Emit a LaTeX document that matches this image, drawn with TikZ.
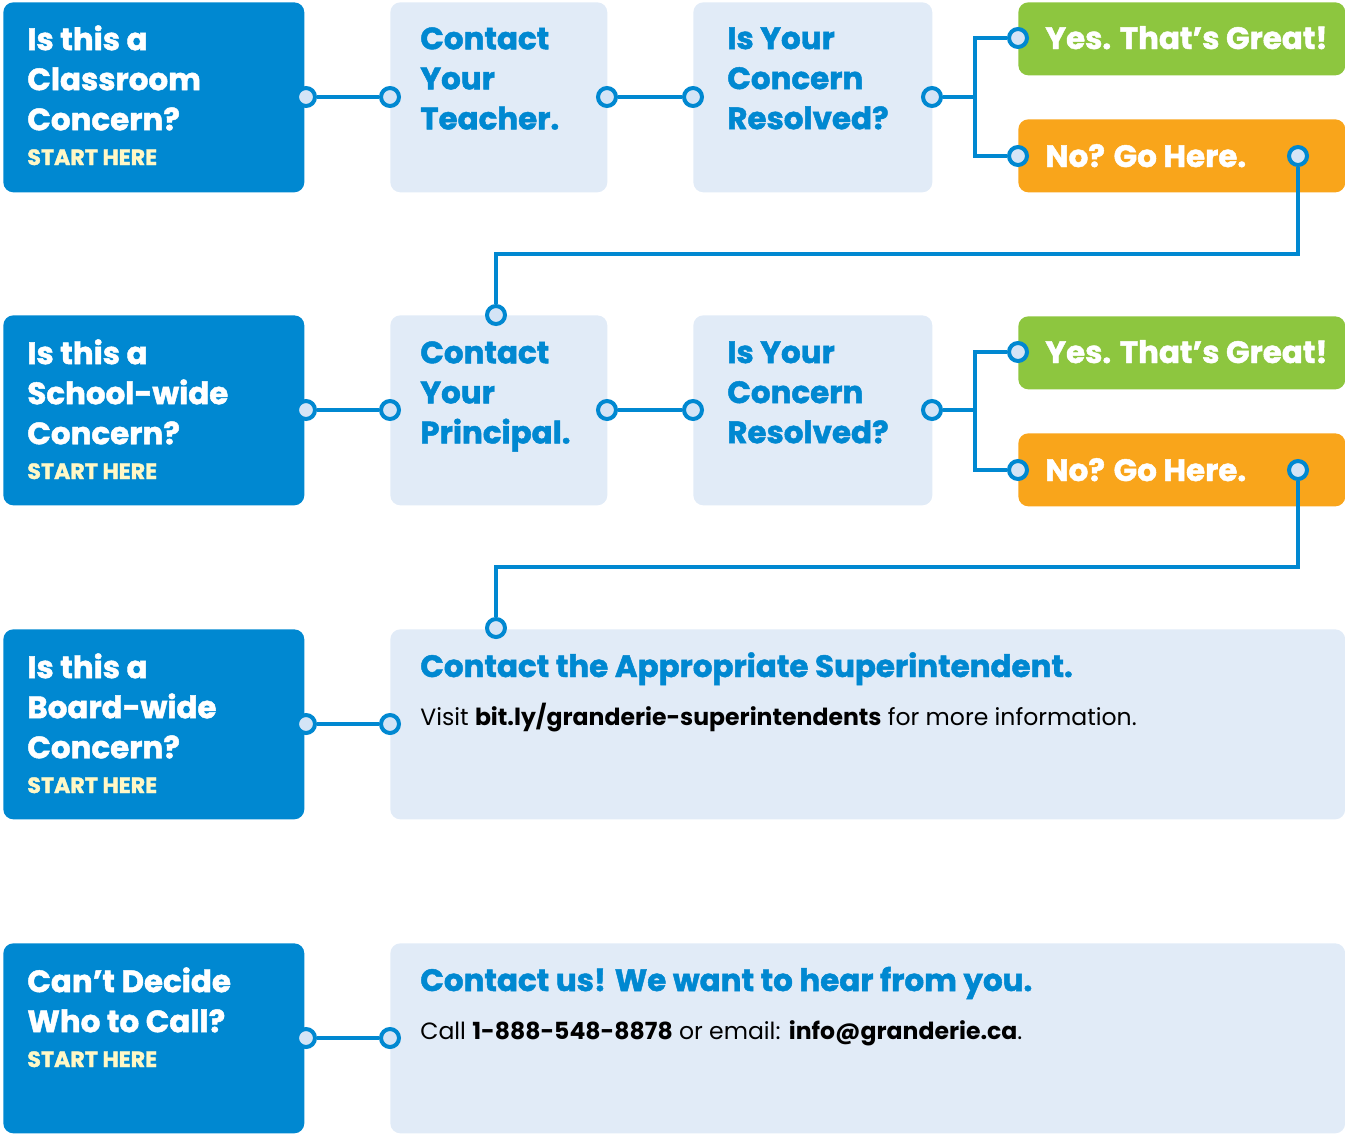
\documentclass[tikz,border=0pt]{standalone}
\usepackage{fontspec}
\setmainfont{Poppins}
\newfontfamily\headfont{Poppins}[BoldFeatures={FakeBold=1.5}]
\usepackage{tikz}
\usetikzlibrary{positioning}
\usetikzlibrary{calc}

\definecolor{gblue}{HTML}{0088D1}
\definecolor{gpale}{HTML}{E1EBF7}
\definecolor{gdot}{HTML}{D4E4F6}
\definecolor{ggreen}{HTML}{8DC63F}
\definecolor{gorange}{HTML}{F9A51B}
\definecolor{gstart}{HTML}{FFF8C6}

\tikzset{
  bluebox/.style={fill=gblue, rounded corners=0.2cm, anchor=north west, inner sep=0, minimum width=6.02cm, minimum height=3.8cm},
  palebox/.style={fill=gpale, rounded corners=0.2cm, anchor=north west, inner sep=0, minimum height=3.8cm},
  answer/.style={rounded corners=0.2cm, anchor=north west, inner sep=0, minimum width=6.54cm, minimum height=1.46cm},
  dot/.style={circle, draw=gblue, fill=gdot, line width=0.08cm, minimum size=0.36cm, inner sep=0},
  link/.style={draw=gblue, line width=0.08cm},
  head/.style={anchor=north west, align=left, inner sep=0, font=\headfont\bfseries\fontsize{17.6}{22.8}\selectfont},
  headline/.style={anchor=base west, inner sep=0, font=\headfont\bfseries\fontsize{17.6}{22.8}\selectfont},
  starthere/.style={anchor=base west, inner sep=0, text=gstart, font=\headfont\bfseries\fontsize{12.6}{14}\selectfont},
  body/.style={anchor=base west, inner sep=0, font=\fontsize{13.4}{17}\selectfont}
}

\begin{document}
\begin{tikzpicture}[x=0.02cm, y=-0.02cm]
\useasboundingbox (0,0) rectangle (1345,1137);

% boxes
\node[bluebox] (ask1) at (3,2) {};
\node[palebox, minimum width=4.34cm] (teacher) at (390,2) {};
\node[palebox, minimum width=4.78cm] (resolved1) at (693,2) {};
\node[answer, fill=ggreen] (yes1) at (1018,2) {};
\node[answer, fill=gorange] (no1) at (1018,119) {};

\node[bluebox] (ask2) at (3,315) {};
\node[palebox, minimum width=4.34cm] (principal) at (390,315) {};
\node[palebox, minimum width=4.78cm] (resolved2) at (693,315) {};
\node[answer, fill=ggreen] (yes2) at (1018,316) {};
\node[answer, fill=gorange] (no2) at (1018,433) {};

\node[bluebox] (ask3) at (3,629) {};
\node[palebox, minimum width=19.1cm] (superint) at (390,629) {};

\node[bluebox] (ask4) at (3,943) {};
\node[palebox, minimum width=19.1cm] (contactus) at (390,943) {};

% dots
\node[dot] (a1) at (306,97) {};
\node[dot] (b1) at (390,97) {};
\node[dot] (c1) at (607,97) {};
\node[dot] (d1) at (693,97) {};
\node[dot] (e1) at (932,97) {};
\node[dot] (y1) at (1018,38) {};
\node[dot] (n1) at (1018,156) {};
\node[dot] (m1) at (1298,156) {};
\node[dot] (f2) at (496,315) {};
\coordinate (t1) at (975,97);
\coordinate (k1) at (496,254);

\node[dot] (a2) at (306,410) {};
\node[dot] (b2) at (390,410) {};
\node[dot] (c2) at (607,410) {};
\node[dot] (d2) at (693,410) {};
\node[dot] (e2) at (932,410) {};
\node[dot] (y2) at (1018,352) {};
\node[dot] (n2) at (1018,470) {};
\node[dot] (m2) at (1298,470) {};
\node[dot] (f3) at (496,628) {};
\coordinate (t2) at (975,410);
\coordinate (k2) at (496,567);

\node[dot] (a3) at (306,724) {};
\node[dot] (b3) at (390,724) {};
\node[dot] (a4) at (306,1038) {};
\node[dot] (b4) at (390,1038) {};

% links
\draw[link] (a1) -- (b1);
\draw[link] (c1) -- (d1);
\draw[link] (e1) -- (t1) |- (y1);
\draw[link] (t1) |- (n1);
\draw[link] (m1) |- (k1) -- (f2);

\draw[link] (a2) -- (b2);
\draw[link] (c2) -- (d2);
\draw[link] (e2) -- (t2) |- (y2);
\draw[link] (t2) |- (n2);
\draw[link] (m2) |- (k2) -- (f3);

\draw[link] (a3) -- (b3);
\draw[link] (a4) -- (b4);

% texts
\node[head, text=white] (q1) at (27,25) {Is this a\\Classroom\\Concern?};
\node[starthere] (s1) at (27,165) {START HERE};
\node[head, text=gblue] (p1) at (420,27) {Contact\\Your\\Teacher.};
\node[head, text=gblue] (r1) at (727,27) {Is Your\\Concern\\Resolved?};
\node[headline, text=white] (g1) at (1045,49) {Yes. That’s Great!};
\node[headline, text=white] (o1) at (1045,167) {No? Go Here.};

\node[head, text=white] (q2) at (27,339) {Is this a\\School-wide\\Concern?};
\node[starthere] (s2) at (27,479) {START HERE};
\node[head, text=gblue] (p2) at (420,341) {Contact\\Your\\Principal.};
\node[head, text=gblue] (r2) at (727,341) {Is Your\\Concern\\Resolved?};
\node[headline, text=white] (g2) at (1045,363) {Yes. That’s Great!};
\node[headline, text=white] (o2) at (1045,481) {No? Go Here.};

\node[head, text=white] (q3) at (27,653) {Is this a\\Board-wide\\Concern?};
\node[starthere] (s3) at (27,793) {START HERE};
\node[headline, text=gblue] (h3) at (420,677) {Contact the Appropriate Superintendent.};
\node[body] (v3) at (420,725) {Visit \textbf{bit.ly/granderie-superintendents} for more information.};

\node[head, text=white] (q4) at (27,967) {Can’t Decide\\Who to Call?};
\node[starthere] (s4) at (27,1067) {START HERE};
\node[headline, text=gblue] (h4) at (420,991) {Contact us! We want to hear from you.};
\node[body] (v4) at (420,1039) {Call \textbf{1-888-548-8878} or email: \textbf{info@granderie.ca}.};
\end{tikzpicture}
\end{document}
